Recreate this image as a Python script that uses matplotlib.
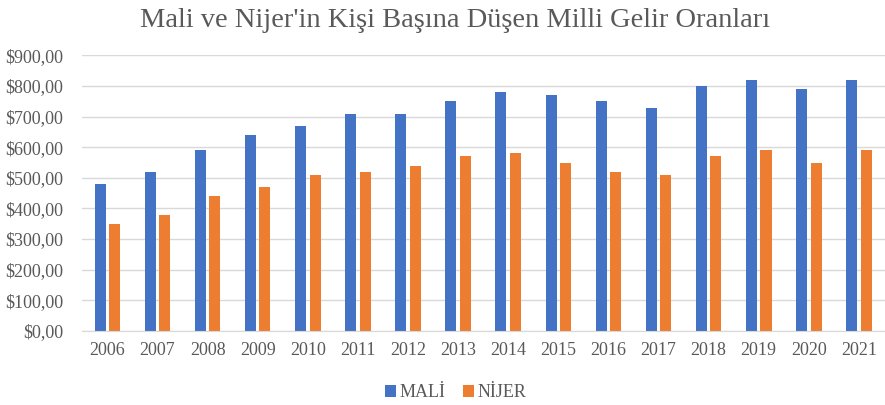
import matplotlib.pyplot as plt
import numpy as np
from matplotlib.ticker import FuncFormatter

years = ['2006', '2007', '2008', '2009', '2010', '2011', '2012', '2013',
         '2014', '2015', '2016', '2017', '2018', '2019', '2020', '2021']
mali = [480, 520, 590, 640, 670, 710, 710, 750, 780, 770, 750, 730, 800, 820, 790, 820]
nijer = [350, 380, 440, 470, 510, 520, 540, 570, 580, 550, 520, 510, 570, 590, 550, 590]

plt.rcParams['font.family'] = ['Liberation Serif', 'DejaVu Serif']
gray = '#595959'

fig = plt.figure(figsize=(8.85, 4.05), dpi=100)
ax = fig.add_axes([0.093, 0.183, 0.907, 0.680])

x = np.arange(len(years))
w = 0.22
ax.bar(x - 0.145, mali, w, color='#4472C4', label='MALİ')
ax.bar(x + 0.145, nijer, w, color='#ED7D31', label='NİJER')

ax.set_xlim(-0.5, len(years) - 0.48)
ax.set_ylim(0, 900)
ax.set_yticks(range(0, 901, 100))
ax.yaxis.set_major_formatter(FuncFormatter(lambda v, p: '${:.2f}'.format(v).replace('.', ',')))
ax.set_xticks(x)
ax.set_xticklabels(years)
ax.tick_params(axis='both', length=0, labelsize=13, labelcolor=gray)
ax.tick_params(axis='x', pad=8)
ax.tick_params(axis='y', pad=14)
ax.grid(axis='y', color='#D9D9D9', linewidth=1)
ax.set_axisbelow(True)
for s in ['top', 'right', 'left']:
    ax.spines[s].set_visible(False)
ax.spines['bottom'].set_color('#D9D9D9')

fig.suptitle("Mali ve Nijer'in Kişi Başına Düşen Milli Gelir Oranları",
             fontsize=20.5, color=gray, x=0.514, y=0.98)

leg = fig.legend(loc='center', bbox_to_anchor=(0.515, 0.03), ncol=2, frameon=False,
                 fontsize=13, handlelength=0.6, handleheight=0.6, handletextpad=0.2,
                 columnspacing=1.0)
for t in leg.get_texts():
    t.set_color(gray)

fig.savefig('out.png', dpi=100)
